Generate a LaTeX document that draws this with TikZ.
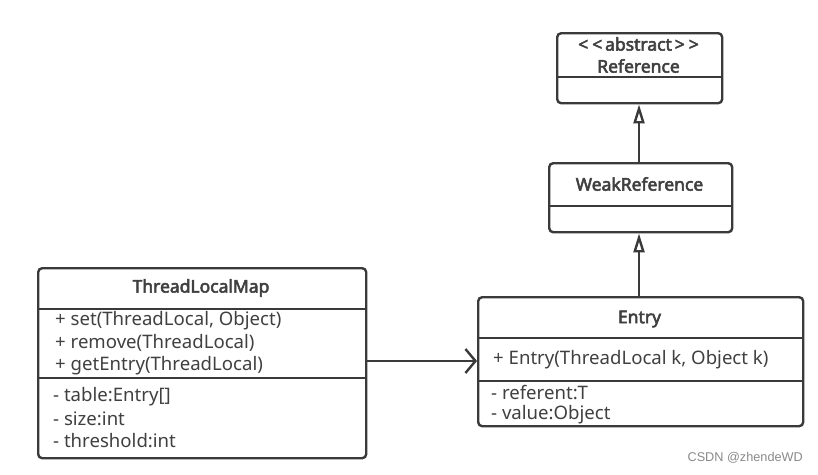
\documentclass[tikz,border=0pt]{standalone}
\usepackage{fontspec}
\setmainfont{Noto Sans}
\newfontfamily\titlefont{Noto Sans}[FakeBold=3]
\newfontfamily\wmfont{Liberation Sans}
\usetikzlibrary{arrows.meta}
\definecolor{lineC}{HTML}{3A3A3A}
\definecolor{txtC}{HTML}{404040}
\definecolor{wmC}{HTML}{8A8A8A}
\tikzset{
  classbox/.style={draw=lineC, line width=2.4pt, rounded corners=4pt, fill=white, inner sep=0pt, anchor=north west},
  divider/.style={draw=lineC, line width=2.4pt},
  title/.style={font=\titlefont\fontsize{17.5}{20}\selectfont, text=txtC, inner sep=0pt},
  member/.style={font=\fontsize{18.6}{22}\selectfont, text=txtC, inner sep=0pt, anchor=west},
  inherit/.style={draw=lineC, line width=2.4pt, -{Triangle[open, length=19pt, width=11pt, line width=2.4pt]}},
  assoc/.style={draw=lineC, line width=2.4pt, -{Straight Barb[length=10pt, width=24pt, line width=2.4pt]}},
}
\begin{document}
\begin{tikzpicture}[x=1pt, y=-1pt]
\useasboundingbox[fill=white] (0,0) rectangle (818,474);

% Reference
\node[classbox, minimum width=165pt, minimum height=70pt] (ref) at (556,32) {};
\draw[divider] (556,77) -- (721,77);
\node[title] (refst) at (638.5,44) {<\kern4pt<\kern3pt abstract\kern3pt>\kern4pt>};
\node[title] (refname) at (638.5,66) {Reference};

% WeakReference
\node[classbox, minimum width=183pt, minimum height=69pt] (weak) at (548,162) {};
\draw[divider] (548,206) -- (731,206);
\node[title] (weakname) at (639.5,184) {WeakReference};

% Entry
\node[classbox, minimum width=325pt, minimum height=129pt] (entry) at (477,296) {};
\draw[divider] (477,338) -- (802,338);
\draw[divider] (477,381) -- (802,381);
\node[title] (entryname) at (639.5,319) {Entry};
\node[member] (e1) at (493,360) {+ Entry(ThreadLocal k, Object k)};
\node[member] (e2) at (491,393) {- referent:T};
\node[member] (e3) at (491,415) {- value:Object};

% ThreadLocalMap
\node[classbox, minimum width=328pt, minimum height=190pt] (tlm) at (37,267) {};
\draw[divider] (37,309) -- (365,309);
\draw[divider] (37,378) -- (365,378);
\node[title] (tlmname) at (201,288) {ThreadLocalMap};
\node[member] (t1) at (55,321) {+ set(ThreadLocal, Object)};
\node[member] (t2) at (55,343) {+ remove(ThreadLocal)};
\node[member] (t3) at (55,366) {+ getEntry(ThreadLocal)};
\node[member] (t4) at (53,397) {- table:Entry[]};
\node[member] (t5) at (53,419) {- size:int};
\node[member] (t6) at (53,441) {- threshold:int};

% connectors
\coordinate (tlmout) at (365,361);
\coordinate (entryin) at (477,361);
\draw[assoc] (tlmout) -- (entryin);
\draw[inherit] (entry.north -| 639,0) -- (weak.south -| 639,0);
\draw[inherit] (weak.north -| 639,0) -- (ref.south -| 639,0);

% watermark
\node[font=\wmfont\fontsize{12.7}{14}\selectfont, text=wmC, inner sep=0pt, anchor=east] (wm) at (803,458) {CSDN @zhendeWD};
\end{tikzpicture}
\end{document}
